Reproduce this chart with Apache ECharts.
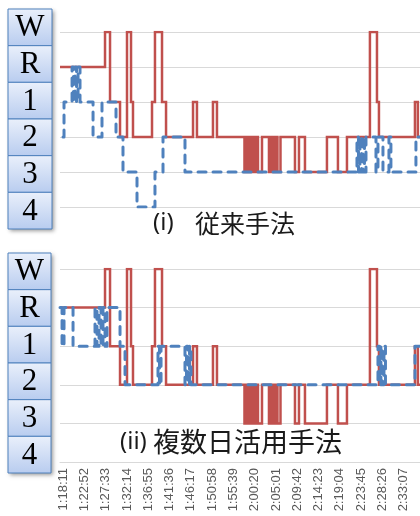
<!DOCTYPE html>
<html>
<head>
<meta charset="utf-8">
<style>
  html, body { margin: 0; padding: 0; background: #ffffff; }
  #chart { width: 420px; height: 516px; }
</style>
<script src="https://cdn.jsdelivr.net/npm/echarts@6/dist/echarts.min.js"></script>
</head>
<body>
<div id="chart"></div>
<script>
// =============================================================
// 睡眠段階の推移 —— (i) 従来手法 / (ii) 複数日活用手法
// 赤実線 = 正解、青破線 = 推定。横軸は 1:18:11 からの経過秒。
// line 系列の step は 2px 未満の区間を間引いてしまうので、
// 階段の角を自前で作って lines 系列（polyline）で描く。
// =============================================================

// y 値 = この配列の添字（下から 4,3,2,1,R,W）
const STAGE_ORDER = ["4", "3", "2", "1", "R", "W"];
// 左の箱に上から並べる表記
const BOX_LABELS = ["W", "R", "1", "2", "3", "4"];

// 目盛ラベル（4:41 = 281 秒ごと）
const TICK_STEP = 281;
const TIME_LABELS = [
  "1:18:11", "1:22:52", "1:27:33", "1:32:14", "1:36:55", "1:41:36",
  "1:46:17", "1:50:58", "1:55:39", "2:00:20", "2:05:01", "2:09:42",
  "2:14:23", "2:19:04", "2:23:45", "2:28:26", "2:33:07", "2:37:48",
];

// 正解（両パネル共通）: 段階が切り替わる時刻 [秒] と切替後の段階
const TRUTH_TIMES = [
  -40, 554, 620, 752, 844, 897, 923, 1174, 1213, 1306, 1359, 1715, 1767,
  1978, 2031, 2394, 2420, 2434, 2460, 2473, 2500, 2526, 2546, 2572, 2625,
  2717, 2750, 2763, 2796, 2829, 2869, 3060, 3113, 3192, 3482, 3627, 3746,
  4049, 4142, 4168, 4643, 4682, 5058,
];
const TRUTH_STAGES = [
  "R", "W", "1", "2", "W", "1", "2", "1", "W", "1", "2", "1", "2",
  "1", "2", "3", "2", "3", "2", "3", "2", "3", "2", "3", "2",
  "3", "2", "3", "2", "3", "2", "3", "2", "3", "2", "3", "2",
  "W", "1", "2", "1", "2", "2",
];

// (i) 従来手法の推定
const CONV_TIMES = [
  0, 13, 119, 138, 158, 178, 198, 224, 396, 514, 699, 791, 976, 1213,
  1319, 1609, 3878, 3898, 3918, 3938, 3958, 3977, 3997, 4129, 4155,
  4221, 4300, 4326, 4656, 5058,
];
const CONV_STAGES = [
  "2", "1", "R", "1", "R", "1", "R", "1", "2", "1", "2", "3", "4", "3",
  "2", "3", "2", "3", "2", "3", "2", "3", "2", "3", "2",
  "3", "2", "3", "2", "2",
];

// (ii) 複数日活用手法の推定
const MULTI_TIMES = [
  -40, -13, 13, 132, 422, 448, 475, 501, 527, 554, 580, 752, 818, 1253,
  1273, 1293, 1609, 1629, 1649, 1669, 1688, 4155, 4175, 4194, 4214,
  4234, 4254, 4643, 5058,
];
const MULTI_STAGES = [
  "R", "1", "R", "1", "R", "1", "R", "1", "R", "1", "R", "1", "2", "1",
  "2", "1", "2", "1", "2", "1", "2", "1", "2", "1", "2",
  "1", "2", "1", "1",
];

// 見た目
const RED = "#c0504d";
const BLUE = "#4f81bd";
const GRID_LINE = "#d9d9d9";
const LABEL_GRAY = "#595959";
const X_MIN = -40;
const X_MAX = 5058;
const PLOT_LEFT = 60;
const PLOT_WIDTH = 386.4; // 右端は画面外まで続く

const PANELS = [
  { top: 32, height: 175, box: { x: 8, y: 9, w: 44, h: 220 } },
  { top: 269, height: 193, box: { x: 8, y: 253, w: 43, h: 220 } },
];

// 切替時刻と段階 → 階段状の折れ線座標（データ空間）
function stepCoords(times, stages) {
  const coords = [];
  times.forEach(function (t, i) {
    const y = STAGE_ORDER.indexOf(stages[i]);
    if (i > 0) {
      coords.push([t, coords[coords.length - 1][1]]);
    }
    coords.push([t, y]);
  });
  return coords;
}

function makeXAxis(gridIndex, withLabels) {
  return {
    type: "value",
    gridIndex: gridIndex,
    min: X_MIN,
    max: X_MAX,
    splitLine: { show: false },
    axisTick: { show: false },
    axisLine: { show: withLabels, lineStyle: { color: GRID_LINE, width: 1.2 } },
    axisLabel: withLabels
      ? {
          show: true,
          customValues: TIME_LABELS.map(function (_, i) { return i * TICK_STEP; }),
          rotate: 90,
          margin: 6,
          fontSize: 13,
          color: LABEL_GRAY,
          fontFamily: "Liberation Sans",
          formatter: function (v) {
            return TIME_LABELS[Math.round(v / TICK_STEP)] || "";
          },
        }
      : { show: false },
  };
}

function makeYAxis(gridIndex) {
  return {
    type: "value",
    gridIndex: gridIndex,
    min: 0,
    max: 5,
    interval: 1,
    axisLine: { show: false },
    axisTick: { show: false },
    axisLabel: { show: false },
    splitLine: { lineStyle: { color: GRID_LINE, width: 1.2 } },
  };
}

function stepSeries(axisIndex, times, stages, color, dashed) {
  return {
    type: "lines",
    coordinateSystem: "cartesian2d",
    xAxisIndex: axisIndex,
    yAxisIndex: axisIndex,
    polyline: true,
    silent: true,
    data: [{ coords: stepCoords(times, stages) }],
    z: dashed ? 3 : 2,
    lineStyle: dashed
      ? { color: color, width: 3, type: [8, 7], cap: "round", join: "round", opacity: 1, curveness: 0 }
      : { color: color, width: 2.5, join: "miter", miterLimit: 10, opacity: 1, curveness: 0 },
  };
}

// 左の段階ラベル箱
function stageBox(box) {
  const cellH = box.h / BOX_LABELS.length;
  const children = [
    {
      type: "rect",
      shape: { x: box.x, y: box.y, width: box.w, height: box.h },
      style: {
        fill: "#c9d8f2",
        shadowBlur: 4,
        shadowOffsetX: 2,
        shadowOffsetY: 2,
        shadowColor: "rgba(0,0,0,0.4)",
      },
    },
  ];
  BOX_LABELS.forEach(function (label, i) {
    const y = box.y + i * cellH;
    children.push({
      type: "rect",
      shape: { x: box.x, y: y, width: box.w, height: cellH },
      style: {
        fill: {
          type: "linear", x: 0, y: 0, x2: 0, y2: 1,
          colorStops: [
            { offset: 0, color: "#eaf0fb" },
            { offset: 1, color: "#b8ccef" },
          ],
        },
        stroke: BLUE,
        lineWidth: 1,
      },
    });
    children.push({
      type: "text",
      style: {
        text: label,
        x: box.x + box.w / 2,
        y: y + cellH / 2 + 1,
        align: "center",
        verticalAlign: "middle",
        font: '31px "Liberation Serif"',
        fill: "#000000",
      },
    });
  });
  return { type: "group", children: children };
}

// 見出し: 括弧部分は欧文フォント、本体は和文フォント
function caption(x1, x2, y, head, body, size) {
  return [
    { type: "text", style: { text: head, x: x1, y: y, align: "left", verticalAlign: "middle", font: '24px "Noto Sans"', fill: "#1a1a1a" } },
    { type: "text", style: { text: body, x: x2, y: y, align: "left", verticalAlign: "middle", font: size + 'px "Noto Sans CJK JP"', fill: "#1a1a1a" } },
  ];
}

const chart = echarts.init(document.getElementById("chart"), null, { renderer: "canvas" });

chart.setOption({
  animation: false,
  backgroundColor: "#ffffff",
  grid: PANELS.map(function (p) {
    return {
      left: PLOT_LEFT,
      top: p.top,
      width: PLOT_WIDTH,
      height: p.height,
      outerBoundsMode: "none",
      containLabel: false,
    };
  }),
  xAxis: [makeXAxis(0, false), makeXAxis(1, true)],
  yAxis: [makeYAxis(0), makeYAxis(1)],
  series: [
    stepSeries(0, TRUTH_TIMES, TRUTH_STAGES, RED, false),
    stepSeries(0, CONV_TIMES, CONV_STAGES, BLUE, true),
    stepSeries(1, TRUTH_TIMES, TRUTH_STAGES, RED, false),
    stepSeries(1, MULTI_TIMES, MULTI_STAGES, BLUE, true),
  ],
  graphic: [stageBox(PANELS[0].box), stageBox(PANELS[1].box)]
    .concat(caption(153, 195, 223, "(i)", "従来手法", 25))
    .concat(caption(120, 153, 442, "(ii)", "複数日活用手法", 27)),
});
</script>
</body>
</html>
